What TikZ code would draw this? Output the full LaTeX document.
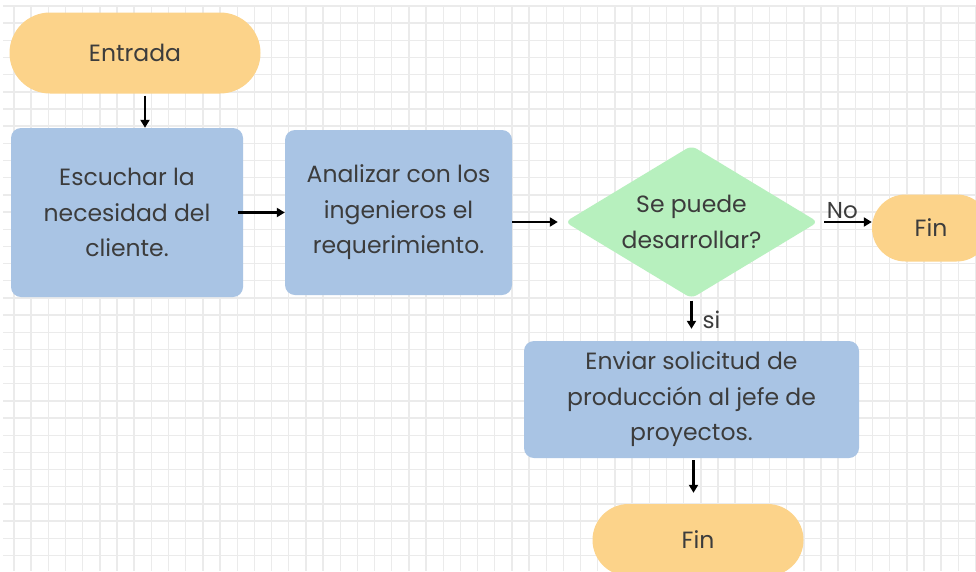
\documentclass[tikz,border=0pt]{standalone}
\usepackage{fontspec}
\setmainfont{Poppins}
\usetikzlibrary{shapes.geometric,shapes.misc,arrows.meta}
\definecolor{termcolor}{RGB}{252,211,138}
\definecolor{stepcolor}{RGB}{169,196,228}
\definecolor{askcolor}{RGB}{183,240,190}
\definecolor{gridcolor}{RGB}{235,235,235}
\definecolor{txtcolor}{RGB}{60,60,60}
\tikzset{
    base/.style={text=txtcolor, font=\fontsize{23.5}{35.5}\selectfont, align=center, inner sep=0pt},
    terminal/.style={base, rounded rectangle, fill=termcolor},
    process/.style={base, rectangle, rounded corners=10pt, fill=stepcolor},
    decision/.style={base, diamond, fill=askcolor, rounded corners=6pt, inner sep=-10pt},
    flow/.style={-{Triangle[length=8pt,width=9pt]}, line width=2.2pt, black},
    flowlabel/.style={text=txtcolor, font=\fontsize{23}{26}\selectfont, inner sep=2pt},
}
\begin{document}
\begin{tikzpicture}[x=1pt,y=-1pt]
    \clip (0,0) rectangle (976,571);
    \fill[white] (0,0) rectangle (976,571);
    % background grid
    \foreach \i in {0,...,56}
        \draw[gridcolor, line width=1.4pt] ({14+17.17*\i},6) -- ({14+17.17*\i},571);
    \foreach \j in {0,...,33}
        \draw[gridcolor, line width=1.4pt] (3,{6+17.17*\j}) -- (976,{6+17.17*\j});

    % nodes
    \node(entrada) [terminal, minimum width=251pt, minimum height=81pt] at (135,53) {Entrada};
    \node(escuchar) [process, minimum width=232pt, minimum height=169pt] at (127,212.5) {Escuchar la\\necesidad del\\cliente.};
    \node(analizar) [process, minimum width=227pt, minimum height=165pt] at (398.5,212.5) {Analizar con los\\ingenieros el\\requerimiento.};
    \node(puede) [decision, minimum width=253pt, minimum height=147pt] at (691.5,222) {Se puede\\desarrollar?};
    \node(finno) [terminal, minimum width=118pt, minimum height=67pt] at (931,228) {Fin};
    \node(enviar) [process, minimum width=335pt, minimum height=117pt] at (691.5,399.5) {Enviar solicitud de\\producción al jefe de\\proyectos.};
    \node(finsi) [terminal, minimum width=211pt, minimum height=72pt] at (698,540) {Fin};

    % connectors
    \draw[flow, shorten <=2pt] ([xshift=10pt]entrada.south) -- ([xshift=10pt]entrada.south |- escuchar.north);
    \draw[flow, shorten <=-5pt] (escuchar.east) -- (analizar.west);
    \draw[flow, shorten >=7pt] (analizar.east |- puede.west) -- (puede.west);
    \draw[flow, shorten <=6pt] (puede.east) -- (puede.east -| finno.west) node(no) [flowlabel, pos=0.45, above] {No};
    \draw[flow, shorten <=2pt, shorten >=12pt] (puede.south) -- (enviar.north) node(si) [flowlabel, midway, right=8pt] {si};
    \draw[flow, shorten <=2pt, shorten >=11pt] ([xshift=2pt]enviar.south) -- ([xshift=2pt]enviar.south |- finsi.north);
\end{tikzpicture}
\end{document}
